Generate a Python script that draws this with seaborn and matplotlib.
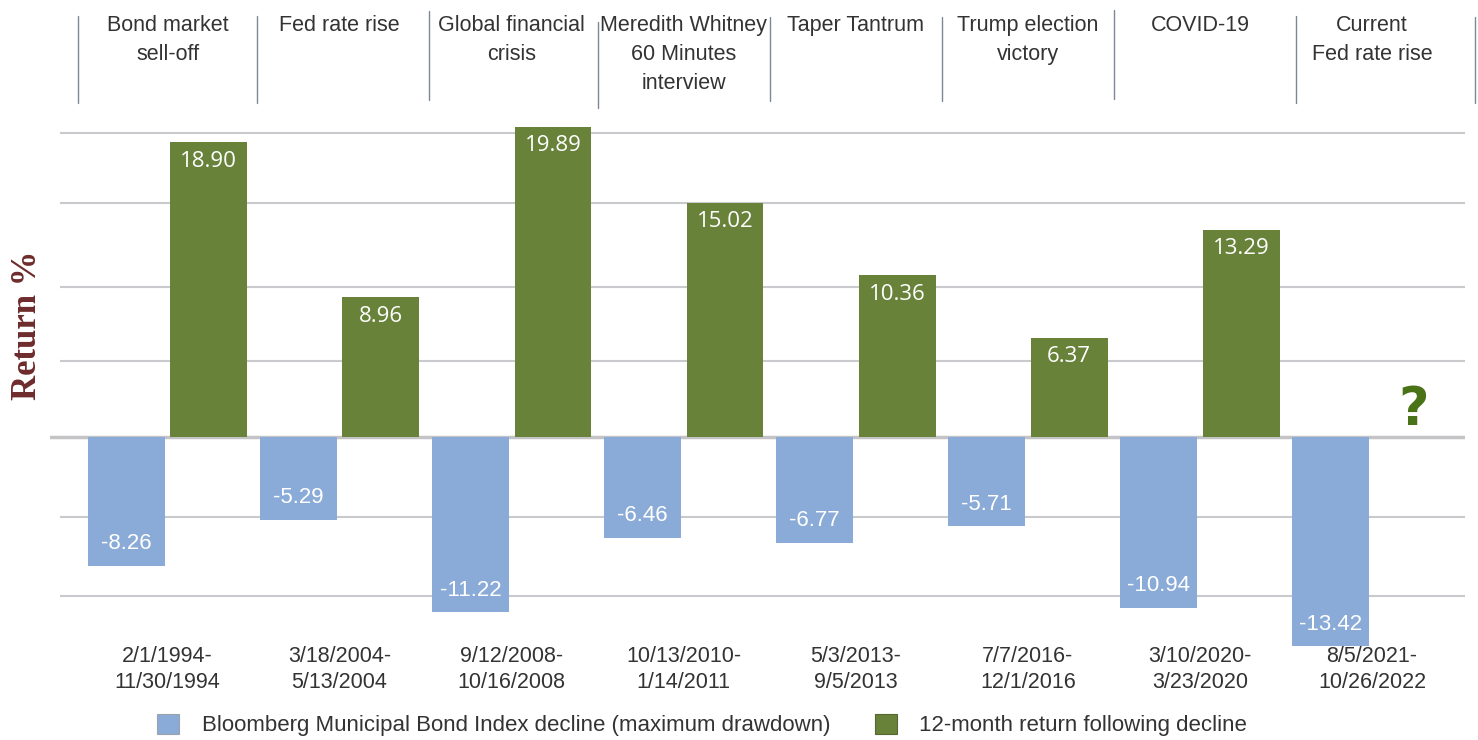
import numpy as np
import pandas as pd
import matplotlib
matplotlib.use("Agg")
import matplotlib.pyplot as plt
import seaborn as sns
from matplotlib.patches import Patch
from matplotlib.lines import Line2D
from matplotlib.transforms import blended_transform_factory

# ---------------- data ----------------
events = ["Bond market\nsell-off", "Fed rate rise", "Global financial\ncrisis",
          "Meredith Whitney\n60 Minutes\ninterview", "Taper Tantrum",
          "Trump election\nvictory", "COVID-19", "Current\nFed rate rise"]
periods = ["2/1/1994-\n11/30/1994", "3/18/2004-\n5/13/2004", "9/12/2008-\n10/16/2008",
           "10/13/2010-\n1/14/2011", "5/3/2013-\n9/5/2013", "7/7/2016-\n12/1/2016",
           "3/10/2020-\n3/23/2020", "8/5/2021-\n10/26/2022"]
decline = [-8.26, -5.29, -11.22, -6.46, -6.77, -5.71, -10.94, -13.42]
following = [18.90, 8.96, 19.89, 15.02, 10.36, 6.37, 13.29, np.nan]
series = ["Bloomberg Municipal Bond Index decline (maximum drawdown)",
          "12-month return following decline"]

# ---------------- style ----------------
BLUE = "#8AABD7"
GREEN = "#68823A"
QGREEN = "#4A7318"
TEXT = "#333333"
GRID = "#C9CACE"
SANS = ["Liberation Sans", "DejaVu Sans"]
grid_levels = [-10.2, -5.1, 4.9, 9.6, 15.0, 19.5]

sns.set_theme(style="white")
plt.rcParams["font.family"] = SANS

W, H = 1478, 740
fig = plt.figure(figsize=(W / 100, H / 100), dpi=100)
ax_top, ax_bot, zero_px = 100, 640, 437
scale = 15.6
ax = fig.add_axes([50 / W, 1 - ax_bot / H, (1465 - 50) / W, (ax_bot - ax_top) / H])

df = pd.DataFrame({
    "period": periods * 2,
    "series": [series[0]] * len(periods) + [series[1]] * len(periods),
    "value": decline + following,
})

sns.barplot(data=df, x="period", y="value", hue="series", order=periods,
            hue_order=series, palette=[BLUE, GREEN], saturation=1,
            width=0.96, gap=0.07, errorbar=None, legend=False, ax=ax, zorder=2,
            linewidth=0)

for p in ax.patches:
    p.set_clip_on(False)

ax.set_ylim(-(ax_bot - zero_px) / scale, (zero_px - ax_top) / scale)
ax.set_xlim(-0.683, 7.54)
ax.hlines(grid_levels, -0.625, 7.54, color=GRID, lw=1.5, zorder=0)
ax.axhline(0, color="#C4C4C6", lw=2.5, zorder=1)

for s in ax.spines.values():
    s.set_visible(False)
ax.set_xticks([])
ax.set_yticks([])
ax.set_xlabel("")
ax.set_ylabel("")

# bar value labels
for cont in ax.containers:
    for bar in cont:
        h = bar.get_height()
        if h is None or np.isnan(h):
            continue
        xc = bar.get_x() + bar.get_width() / 2
        if h >= 0:
            ax.text(xc, h - 19 / scale, f"{h:.2f}", ha="center", va="center",
                    color="white", fontsize=16, family=["Open Sans", "DejaVu Sans"],
                    zorder=5)
        else:
            ax.text(xc, h + 22 / scale, f"{h:.2f}", ha="center", va="center",
                    color="white", fontsize=16, zorder=5)

trans = blended_transform_factory(ax.transData, fig.transFigure)

# header event labels and separators
for i, ev in enumerate(events):
    ax.text(i, 1 - 15 / H, ev, transform=trans, ha="center", va="top",
            fontsize=15.5, color=TEXT, linespacing=1.5, multialignment="center")
sep_x = [-0.52, 0.52, 1.52, 2.5, 3.5, 4.5, 5.5, 6.56, 7.6]
sep_tops = [16, 16, 11, 22, 17, 17, 10, 16, 17]
sep_bots = [103, 103, 100, 108, 101, 101, 99, 103, 103]
for xs, t, b in zip(sep_x, sep_tops, sep_bots):
    ln = Line2D([xs, xs], [1 - t / H, 1 - b / H],
                transform=trans, color="#7D8796", lw=1.0, clip_on=False)
    fig.add_artist(ln)

# date labels
for i, pr in enumerate(periods):
    ax.text(i, 1 - 646 / H, pr, transform=trans, ha="center", va="top",
            fontsize=15.5, color=TEXT, linespacing=1.3, multialignment="center")

# question mark for missing value
ax.text(7.24, 0.75, "?", ha="center", va="baseline", fontsize=38,
        fontweight="bold", color=QGREEN, family=["DejaVu Sans"], zorder=5)

# y label
fig.text(27 / W, 1 - 325 / H, "Return %", rotation=90, ha="center", va="center",
         fontsize=25, fontweight="bold", color="#6E2B2B",
         family=["Liberation Serif", "DejaVu Serif"])

# legend
handles = [Patch(facecolor=BLUE, edgecolor="#9AA3AE", lw=0.8),
           Patch(facecolor=GREEN, edgecolor="#55682F", lw=0.8)]
fig.legend(handles, series, loc="center", bbox_to_anchor=(702 / W, 1 - 725 / H),
           ncol=2, frameon=False, fontsize=16, handlelength=1.0, handleheight=1.0,
           handletextpad=1.0, columnspacing=2.0, labelcolor=TEXT,
           borderaxespad=0, borderpad=0)

fig.savefig("out.png", dpi=100)
